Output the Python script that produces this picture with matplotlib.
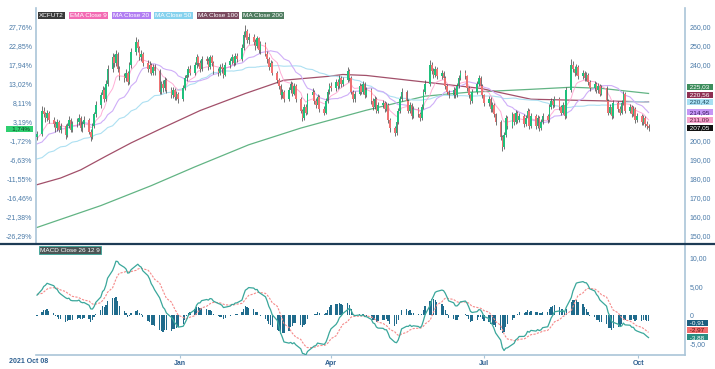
import numpy as np
import pandas as pd
import matplotlib
matplotlib.use('Agg')
import matplotlib.pyplot as plt
import matplotlib.dates as mdates
import matplotlib.transforms as mtransforms
from matplotlib.lines import Line2D

plt.rcParams['font.family'] = ['Liberation Sans', 'DejaVu Sans']

# ---------------- data ----------------
# closes before the visible window (only used to warm up the indicators)
warmup_closes = [160, 162, 165, 163, 170, 178, 185, 192, 205, 200,
                 198, 190, 185, 182, 178, 176, 180, 178, 175, 177,
                 180, 183, 182, 186, 184, 181, 179, 183, 187, 190,
                 192, 189, 191, 188, 186, 189, 192, 195, 193, 190,
                 188, 191, 194, 196, 193, 195, 192, 190, 194, 197,
                 199, 196, 200, 198, 202, 204, 200, 203, 205, 201,
                 199, 202]

first_day = '2021-10-08'
first_open = 202.0
closes = [203.5,
          216, 214, 212, 215, 211,   209, 207, 210, 206, 208,
          203, 208, 211, 206, 209,   210, 212, 207, 209, 211,
          205, 202, 208, 214, 219,   224, 227, 222, 230, 238,
          244, 241, 246, 238, 234,   233, 236, 231, 240, 247,
          252, 249, 244, 246, 241,   238, 240, 236, 239, 237,
          226, 230, 228, 232, 227,   224, 227, 223, 225, 222,
          228, 233, 235, 238, 236,   240, 244, 241, 238, 243,
          242, 239, 244, 241, 237,   236, 239, 238, 235, 240,
          242, 244, 241, 245, 243,   249, 256, 258, 253, 255,
          252, 250, 254, 248, 251,   246, 243, 239, 241, 236,
          232, 229, 224, 226, 222,   227, 230, 225, 229, 222,
          216, 212, 218, 215, 224,   226, 221, 219, 223, 217,
          215, 221, 226, 229, 228,   231, 229, 233, 230, 232,
          237, 233, 226, 222, 225,   229, 226, 230, 224, 227,
          221, 218, 222, 216, 219,   220, 217, 219, 211, 207,
          204, 210, 216, 222, 226,   221, 216, 219, 213, 217,
          214, 212, 218, 226, 230,   240, 237, 235, 238, 234,
          236, 233, 229, 226, 224,   227, 224, 229, 233, 236,
          234, 228, 224, 221, 226,   230, 233, 229, 224, 220,
          222, 217, 219, 214, 210,   202, 197, 203, 212, 208,
          214, 210, 215, 211, 213,   209, 212, 216, 208, 213,
          208, 212, 207, 210, 213,   211, 218, 221, 219, 222,
          218, 215, 219, 213, 227,   240, 238, 236, 239, 234,
          236, 233, 235, 231, 228,   230, 227, 229, 225, 228,
          221, 215, 218, 213, 220,   217, 215, 220, 225, 216,
          218, 214, 217, 211, 213,   210, 212, 209, 208, 207.05]

highs = [205.5,
         218.5, 218, 215.5, 216.5, 216,   212.5, 210.5, 211.5, 211, 209.5,
         209, 209.5, 213, 212, 210.5,     212, 214, 213, 210.5, 213,
         212, 206.5, 209.5, 215.5, 221,   226, 229, 228.5, 232, 240,
         246.5, 246, 248, 247, 239.5,     236, 238, 237, 241.5, 249,
         254.5, 253.5, 250, 248, 247,     242.5, 242, 241, 240.5, 240.5,
         238, 231.5, 232, 233.5, 233,     228.5, 228.5, 228, 226.5, 226,
         229.5, 234.5, 237, 239.5, 240,   241.5, 246, 245, 242.5, 244.5,
         245, 243.5, 245.5, 245.5, 242,   238.5, 240.5, 241, 239, 241.5,
         243.5, 246, 245, 246.5, 246.5,   251, 258, 261, 259, 257,
         256.5, 253.5, 255.5, 255, 252.5, 252, 247.5, 244, 242.5, 242,
         237, 233, 230, 227.5, 227,       228.5, 231.5, 231, 230.5, 230,
         223, 217, 219.5, 219.5, 225.5,   228, 227, 222.5, 224.5, 224,
         218.5, 222.5, 227.5, 230.5, 231, 232.5, 232.5, 234.5, 234, 233.5,
         239, 238, 234, 227, 226.5,       230.5, 230, 231.5, 231, 228.5,
         228, 222.5, 223.5, 223, 220.5,   221.5, 221, 220.5, 220, 212,
         208, 211.5, 217.5, 223.5, 228,   227, 222, 220.5, 220, 218.5,
         218, 215.5, 219.5, 227.5, 232,   242.5, 241.5, 238.5, 239.5, 239,
         237.5, 237, 234, 230, 227,       228.5, 228, 230.5, 234.5, 237.5,
         237.5, 235, 229, 225, 227.5,     231.5, 235, 234, 230, 225,
         223.5, 223, 220.5, 220, 215,     211, 203, 204.5, 213.5, 213,
         215.5, 215, 216.5, 216, 214.5,   214, 213.5, 217.5, 217, 214.5,
         214, 213.5, 213, 211.5, 214.5,   214, 219.5, 222.5, 222, 223.5,
         223, 219, 220.5, 220, 228.5,     243, 242, 239.5, 240.5, 240,
         237.5, 237, 236.5, 236, 232,     231.5, 231, 230.5, 230, 229.5,
         229, 222, 219.5, 219, 221.5,     221, 218.5, 221.5, 226.5, 226,
         219.5, 219, 218.5, 218, 214.5,   214, 213.5, 213, 210.5, 209]

lows = [200.5,
        202.5, 212.5, 210, 210.5, 209.5, 207.5, 205, 205.5, 204.5, 204,
        201, 202, 207, 204.5, 205,       207.5, 208.5, 205.5, 205, 207.5,
        203.5, 200, 201, 207, 212.5,     217.5, 222.5, 220.5, 221, 229,
        236.5, 239, 239.5, 236.5, 232,   231, 231.5, 229.5, 230, 238.5,
        245.5, 247, 242.5, 242, 239.5,   236.5, 236, 234.5, 235, 235,
        224.5, 224.5, 226, 226.5, 225.5, 222.5, 222.5, 221.5, 221.5, 220,
        221, 227, 231.5, 233.5, 234.5,   235, 238.5, 239.5, 236.5, 237,
        240.5, 237.5, 238, 239.5, 235.5, 234, 234.5, 236, 233, 234,
        238.5, 240.5, 239.5, 240, 241.5, 242, 248, 254.5, 251.5, 251,
        250.5, 248, 249, 246.5, 246,     244.5, 241, 237.5, 237.5, 234.5,
        230.5, 227.5, 222, 222.5, 220.5, 221, 225.5, 223.5, 224, 220.5,
        214.5, 210.5, 211, 213.5, 214,   222.5, 219.5, 217.5, 218, 215.5,
        213.5, 214, 220, 225, 226.5,     226.5, 227.5, 228, 228.5, 229,
        231, 231.5, 224.5, 220.5, 220.5, 224, 224.5, 225, 222.5, 223,
        219.5, 216.5, 217, 214.5, 215,   217.5, 215.5, 216, 209.5, 205,
        202.5, 203, 209, 215, 221,       219.5, 214.5, 215, 211.5, 212,
        212.5, 210.5, 211, 217, 225,     229, 235.5, 233, 233.5, 232.5,
        232.5, 231.5, 227.5, 224.5, 222.5, 222.5, 222.5, 223, 228, 232,
        232.5, 226.5, 222.5, 219.5, 220, 225, 229, 227.5, 222.5, 218.5,
        218.5, 215.5, 215.5, 212.5, 208.5, 200.5, 195, 196, 202, 206.5,
        207, 208.5, 209, 209.5, 210,     207.5, 208, 211, 206.5, 207,
        206.5, 207, 205.5, 206, 209,     209.5, 210, 217, 217.5, 218,
        216.5, 213.5, 214, 211.5, 212,   226, 236.5, 234, 235, 232.5,
        232.5, 231.5, 231.5, 229.5, 226.5, 226.5, 225.5, 225.5, 223.5, 224,
        219.5, 213.5, 214, 211.5, 212,   215.5, 213.5, 214, 219, 214.5,
        214.5, 212.5, 213, 209.5, 210,   208.5, 208.5, 207.5, 206.5, 205.5]

# long moving averages
ma100_dates = ['2021-10-08', '2021-10-22', '2021-11-03', '2021-11-18', '2021-12-03',
               '2021-12-22', '2022-01-13', '2022-02-09', '2022-03-04', '2022-03-30',
               '2022-04-08', '2022-04-22', '2022-05-27', '2022-06-29', '2022-07-29',
               '2022-08-22', '2022-10-07']
ma100_values = [177, 180.5, 184.8, 192, 199, 207, 216, 225, 232, 234, 235, 234.5,
                231, 227.7, 222, 221.5, 220.56]
ma200_dates = ['2021-10-08', '2021-11-15', '2021-12-15', '2022-01-10', '2022-02-11',
               '2022-03-14', '2022-04-22', '2022-05-27', '2022-06-21', '2022-07-29',
               '2022-08-22', '2022-09-09', '2022-10-07']
ma200_values = [154.5, 166, 176.5, 186.4, 198, 206.8, 216.2, 223.6, 225.6, 227.2,
                228.3, 227.7, 225.03]

price_ticks = [150, 160, 170, 180, 190, 200, 210, 220, 230, 240, 250, 260]
macd_ticks = [-5, 0, 5, 10]
macd_tick_labels = ['-5,00', '0', '5,00', '10,00']
xtick_dates = ['2022-01-01', '2022-04-01', '2022-07-01', '2022-10-01']
xtick_labels = ['Jan', 'Apr', 'Jul', 'Oct']
first_date_label = '2021 Oct 08'
legend_labels = ['XCFUT2', 'EMA Close 9', 'MA Close 20', 'MA Close 50',
                 'MA Close 100', 'MA Close 200']
macd_title = 'MACD Close 26 12 9'

# ---------------- styles ----------------
C_UP, C_DN, C_WICK = '#1fc07c', '#ee7272', '#4d4d4d'
C_EMA9, C_MA20, C_MA50 = '#ff9acd', '#cfaef8', '#ade0f2'
C_MA100, C_MA200 = '#a2506a', '#62b484'
C_MACD, C_SIG, C_HIST = '#3aa79b', '#f58a8a', '#1f6b8c'
C_AX = '#aac5d8'
C_TXT = '#4a7aa8'
W, H = 715, 369

# ---------------- indicators ----------------
n = len(closes)
dates = pd.bdate_range(first_day, periods=n)
x = mdates.date2num(dates)
full = pd.Series(warmup_closes + closes, dtype=float)
ema9 = full.ewm(span=9, adjust=False).mean().values[-n:]
ma20 = full.rolling(20).mean().values[-n:]
ma50 = full.rolling(50).mean().values[-n:]
macd_full = full.ewm(span=12, adjust=False).mean() - full.ewm(span=26, adjust=False).mean()
sig_full = macd_full.ewm(span=9, adjust=False).mean()
macd = macd_full.values[-n:]
sig = sig_full.values[-n:]
hist = macd - sig

c = np.array(closes, float)
o = np.array([first_open] + closes[:-1], float)
hi = np.array(highs, float)
lo = np.array(lows, float)
base = c[0]

def fmt(v):
    return ('%.2f' % v).replace('.', ',')

# ---------------- figure ----------------
fig = plt.figure(figsize=(W / 100, H / 100), dpi=100)
fig.patch.set_facecolor('white')

def fx(px):
    return px / W

def fy(py):
    return 1 - py / H

ax = fig.add_axes([fx(36), fy(244), fx(685) - fx(36), fy(8) - fy(244)])
axm = fig.add_axes([fx(36), fy(355), fx(685) - fx(36), fy(244) - fy(355)], sharex=ax)

x0 = mdates.date2num(pd.Timestamp(first_day)) - 0.6
x1 = x0 + (685 - 36) / 1.68
ax.set_xlim(x0, x1)

ppu = 1.9  # pixels per price unit
ylo = 150 - (244 - 236) / ppu
yhi = 260 + (27 - 8) / ppu
ax.set_ylim(ylo, yhi)

# moving averages (under candles)
ax.plot(pd.to_datetime(ma200_dates), ma200_values, color=C_MA200, lw=0.9, zorder=2)
ax.plot(pd.to_datetime(ma100_dates), ma100_values, color=C_MA100, lw=0.9, zorder=2)
ax.plot(x, ma50, color=C_MA50, lw=0.8, zorder=2)
ax.plot(x, ma20, color=C_MA20, lw=0.8, zorder=2)
ax.plot(x, ema9, color=C_EMA9, lw=0.7, alpha=0.8, zorder=2)

# candles
up = c >= o
ax.vlines(x, lo, hi, color=C_WICK, lw=0.55, zorder=3)
body_h = np.maximum(np.abs(c - o), 0.4)
ax.bar(x, body_h, bottom=np.minimum(o, c), width=0.95,
       color=np.where(up, C_UP, C_DN), linewidth=0, zorder=4)

for s in ['top', 'bottom']:
    ax.spines[s].set_visible(False)
for s in ['left', 'right']:
    ax.spines[s].set_color(C_AX)
    ax.spines[s].set_linewidth(1.2)
ax.tick_params(axis='x', which='both', bottom=False, labelbottom=False)

# value tags on the right of the price panel (stacked upwards from the lowest)
tags = [(c[-1], '#111111', 'white'),
        (ema9[-1], '#f6a3cb', '#5a2040'),
        (ma20[-1], '#c596f6', '#3a1a5a'),
        (ma50[-1], '#a8dff2', '#1d4a60'),
        (ma100_values[-1], '#8e2f52', 'white'),
        (ma200_values[-1], '#3d8d5c', 'white')]
tags.sort(key=lambda t: t[0])
gap = 3.95
prev = None
tag_pos = []
for val, fc, tc in tags:
    pos = val if prev is None else max(val, prev + gap)
    prev = pos
    tag_pos.append(pos)

pct_labels = [('%.2f%%' % ((p / base - 1) * 100)).replace('.', ',') for p in price_ticks]
ax.set_yticks(price_ticks)
ax.set_yticklabels(pct_labels)
ax.tick_params(axis='y', length=0, pad=2.5, labelsize=5, labelcolor=C_TXT)

# price labels covered by the tags are not shown, as in the reference
price_labels = []
for p in price_ticks:
    hidden = any(abs(p - tp) < 2.2 for tp in tag_pos) or (min(tag_pos) < p < max(tag_pos))
    price_labels.append('' if hidden else fmt(p))
axr = ax.twinx()
axr.set_ylim(ax.get_ylim())
axr.set_yticks(price_ticks)
axr.set_yticklabels(price_labels)
axr.tick_params(axis='y', length=0, pad=3.5, labelsize=5, labelcolor=C_TXT)
for s in axr.spines.values():
    s.set_visible(False)

blend_r = mtransforms.blended_transform_factory(ax.transAxes, ax.transData)
for (val, fc, tc), pos in zip(tags, tag_pos):
    ax.text(1.0 + 3 / 649, pos, ' ' + fmt(val) + '  ', transform=blend_r,
            ha='left', va='center', fontsize=4.6, color=tc, clip_on=False,
            bbox=dict(boxstyle='square,pad=0.08', fc=fc, ec='none'), zorder=10)

# last-close percentage tag on the left (sits a little below the 3,19% label)
ax.text(-3 / 649, c[-1] - 0.6, '   ' + ('%.2f%%' % ((c[-1] / base - 1) * 100)).replace('.', ',') + '  ',
        transform=blend_r, ha='right', va='center', fontsize=4.4, color='#0d3b1f',
        clip_on=False, bbox=dict(boxstyle='square,pad=0.08', fc='#2fcf70', ec='none'),
        zorder=10)

# legend boxes
leg_x = [39, 70, 113, 155, 198, 243]
leg_fc = ['#3a3a3a', '#f36bb3', '#b27ef2', '#86d2ee', '#7a4a5f', '#4e7c5f']
for lx, lab, fc in zip(leg_x, legend_labels, leg_fc):
    fig.text(fx(lx), fy(15.5), lab, ha='left', va='center', fontsize=4.6, color='white',
             bbox=dict(boxstyle='square,pad=0.22', fc=fc, ec='none'))

# ---------------- MACD panel ----------------
mppu = 86 / 15
zero_y = 258 + 10 * mppu
mlo = -(355 - zero_y) / mppu
mhi = (zero_y - 244) / mppu
axm.set_ylim(mlo, mhi)
axm.bar(x, hist, width=0.75, color=C_HIST, linewidth=0, zorder=2)
axm.plot(x, sig, color=C_SIG, lw=0.8, ls=(0, (2, 1.2)), zorder=3)
axm.plot(x, macd, color=C_MACD, lw=0.9, zorder=4)

axm.spines['top'].set_visible(False)
axm.spines['left'].set_visible(False)
for s in ['bottom', 'right']:
    axm.spines[s].set_color(C_AX)
    axm.spines[s].set_linewidth(1.2)
axm.yaxis.tick_right()
axm.set_yticks(macd_ticks)
axm.set_yticklabels(macd_tick_labels)
axm.tick_params(axis='y', length=0, pad=3.5, labelsize=5, labelcolor=C_TXT)
axm.set_xticks(mdates.date2num(pd.to_datetime(xtick_dates)))
axm.set_xticklabels(xtick_labels, fontweight='bold')
axm.tick_params(axis='x', length=2.5, width=0.8, color=C_AX, pad=1.2,
                labelsize=5, labelcolor='#2d5f90')
fig.text(fx(9), fy(361.5), first_date_label, ha='left', va='center', fontsize=5,
         fontweight='bold', color='#2d5f90')

# MACD tags: a colliding group is spread evenly around its mean
blend_m = mtransforms.blended_transform_factory(axm.transAxes, axm.transData)
mtags = [(macd[-1], '#2b8d82', 'white'), (sig[-1], '#f26d6d', '#5a1010'),
         (hist[-1], '#1d5f80', 'white')]
mtags.sort(key=lambda t: t[0])
mgap = 1.27
vals = [t[0] for t in mtags]
center = np.mean(vals)
mpos = [center + (i - (len(vals) - 1) / 2) * mgap for i in range(len(vals))]
for (val, fc, tc), pos in zip(mtags, mpos):
    axm.text(1.0 + 3 / 649, pos, ' ' + fmt(val) + '  ', transform=blend_m,
             ha='left', va='center', fontsize=4.6, color=tc, clip_on=False,
             bbox=dict(boxstyle='square,pad=0.08', fc=fc, ec='none'), zorder=10)

fig.text(fx(40), fy(250), macd_title, ha='left', va='center', fontsize=4.6, color='white',
         bbox=dict(boxstyle='square,pad=0.22', fc='#4b5454', ec='#3aa79b', lw=0.6))

# divider between panels
fig.add_artist(Line2D([0, 1], [fy(244), fy(244)], color='#1d3b55', lw=1.6,
                      transform=fig.transFigure))

fig.savefig('out.png', dpi=100, facecolor='white')
